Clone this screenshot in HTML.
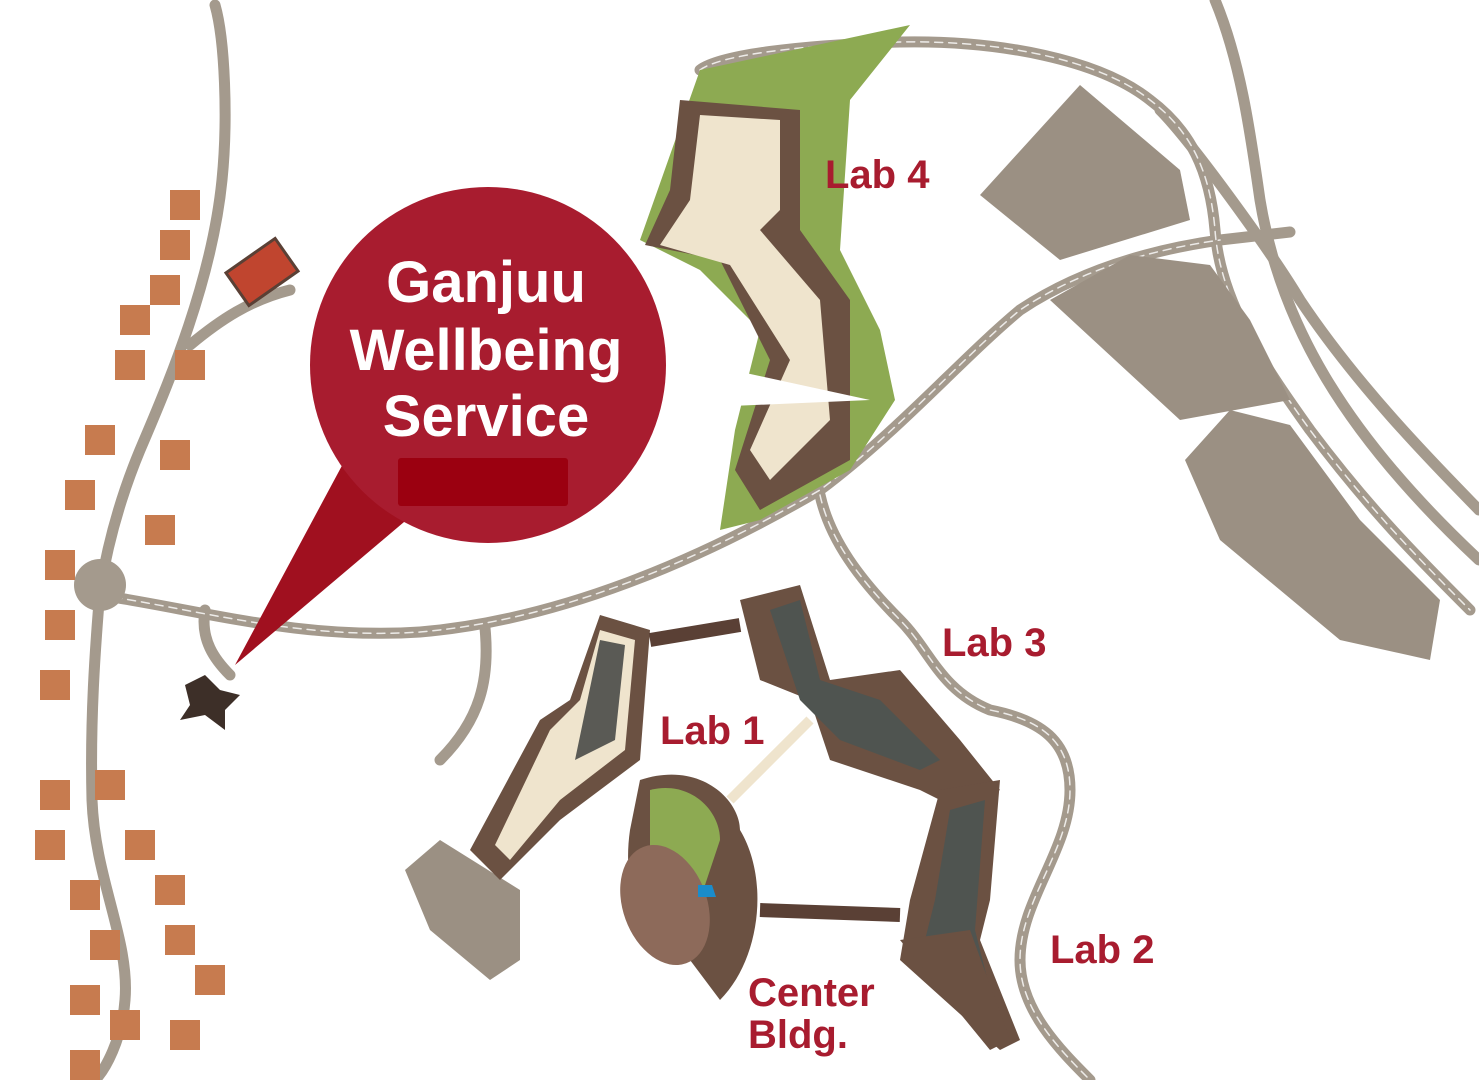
<!DOCTYPE html>
<html><head><meta charset="utf-8"><style>
html,body{margin:0;padding:0;background:#fff;width:1479px;height:1080px;overflow:hidden}
svg{display:block}
text{font-family:"Liberation Sans","DejaVu Sans",sans-serif;font-weight:bold}
</style></head><body>
<svg width="1479" height="1080" viewBox="0 0 1479 1080">
<g fill="none" stroke-linecap="round" stroke-linejoin="round">
<g stroke="#a49a8d" stroke-width="11">
<path d="M215 5 C225 40 228 120 222 180 C212 280 170 380 140 450 C115 510 105 560 100 590 C95 650 90 720 92 800 C95 880 130 940 125 1000 C122 1040 105 1070 95 1080"/>
<path d="M100 595 C200 610 300 640 420 632 C560 620 700 560 820 490 C900 430 960 360 1020 310 C1080 270 1150 250 1220 240 L1290 232"/>
<path d="M700 70 C720 55 800 45 900 42 C1000 40 1100 60 1150 100 C1190 130 1210 170 1215 230 C1220 300 1260 360 1310 430 C1370 510 1420 560 1470 610"/>
<path d="M1215 0 C1240 60 1250 130 1260 200 C1280 320 1340 430 1479 560"/>
<path d="M1160 110 C1190 140 1270 250 1300 300 C1360 390 1440 470 1479 510"/>
<path d="M820 495 C830 540 860 580 900 620 C930 650 940 690 990 710 C1040 720 1070 740 1070 790 C1070 850 1020 900 1020 960 C1020 1010 1060 1050 1090 1080"/>
<path d="M485 628 C490 680 480 720 440 760"/>
<path d="M190 345 C220 320 250 300 290 290"/>
<path d="M205 610 C200 640 215 660 230 675"/>
</g>
<g stroke="#fff" stroke-width="1.5" stroke-dasharray="8 6" opacity=".8">
<path d="M100 595 C200 610 300 640 420 632 C560 620 700 560 820 490 C900 430 960 360 1020 310 C1080 270 1150 250 1220 240"/>
<path d="M700 70 C720 55 800 45 900 42 C1000 40 1100 60 1150 100 C1190 130 1210 170 1215 230 C1220 300 1260 360 1310 430 C1370 510 1420 560 1470 610"/>
<path d="M820 495 C830 540 860 580 900 620 C930 650 940 690 990 710 C1040 720 1070 740 1070 790 C1070 850 1020 900 1020 960 C1020 1010 1060 1050 1090 1080"/>
</g>
</g>
<circle cx="100" cy="585" r="26" fill="#a49a8d"/>
<g fill="#9b9083">
<polygon points="980,195 1080,85 1180,170 1190,220 1060,260"/>
<polygon points="1050,300 1130,255 1210,265 1250,320 1290,400 1180,420"/>
<polygon points="1185,460 1230,410 1290,425 1360,520 1440,600 1430,660 1340,640 1220,540"/>
<polygon points="405,870 440,840 520,890 520,960 490,980 430,930"/>
</g>
<polygon points="700,70 910,25 850,100 840,250 880,330 895,400 850,470 760,520 720,530 735,430 760,330 700,270 640,240" fill="#8daa52"/>
<polygon points="680,100 800,110 800,230 850,300 850,460 760,510 735,470 770,360 720,260 645,245 670,190" fill="#6b5142"/>
<polygon points="700,115 780,120 780,210 760,230 820,300 830,420 770,480 750,450 790,360 730,265 660,245 690,200" fill="#efe4cd"/>
<polygon points="600,615 650,630 640,760 560,820 500,880 470,850 540,720 570,700" fill="#6b5142"/>
<polygon points="600,630 635,640 625,750 560,800 510,860 495,845 550,730 580,700" fill="#efe4cd"/>
<polygon points="600,640 625,645 615,740 575,760" fill="#5a5a55"/>
<polygon points="740,600 800,585 830,680 900,670 960,740 1000,790 960,810 920,790 830,760 810,700 760,680" fill="#6b5142"/>
<polygon points="770,610 800,600 820,680 880,700 940,760 920,770 840,740 800,700" fill="#4f5450"/>
<polygon points="940,790 1000,780 990,900 980,940 1020,1040 1000,1050 900,960 910,900" fill="#6b5142"/>
<polygon points="950,810 985,800 975,930 1000,1030 920,960 935,900" fill="#4f5450"/>
<polygon points="900,940 970,930 1010,1040 990,1050" fill="#6b5142"/>
<g stroke="#5a4035" stroke-width="14"><path d="M650 640 L740 625"/><path d="M760 910 L900 915"/></g>
<path d="M730 800 L810 720" stroke="#efe4cd" stroke-width="10"/>
<path d="M640 780 C700 760 740 800 740 830 C770 880 760 960 720 1000 L690 960 C650 940 620 900 630 830 Z" fill="#6b5142"/>
<path d="M650 790 C690 780 720 810 720 840 L700 900 L650 860 Z" fill="#8daa52"/>
<ellipse cx="665" cy="905" rx="42" ry="62" transform="rotate(-20 665 905)" fill="#8d6a5a"/>
<path d="M698 885 l14 0 l4 12 l-18 0z" fill="#1a8ccb"/>
<g fill="#c77b4f">
<rect x="170" y="190" width="30" height="30"/><rect x="160" y="230" width="30" height="30"/><rect x="150" y="275" width="30" height="30"/><rect x="120" y="305" width="30" height="30"/><rect x="115" y="350" width="30" height="30"/><rect x="175" y="350" width="30" height="30"/><rect x="85" y="425" width="30" height="30"/><rect x="160" y="440" width="30" height="30"/><rect x="65" y="480" width="30" height="30"/><rect x="145" y="515" width="30" height="30"/><rect x="45" y="550" width="30" height="30"/><rect x="45" y="610" width="30" height="30"/><rect x="40" y="670" width="30" height="30"/><rect x="40" y="780" width="30" height="30"/><rect x="95" y="770" width="30" height="30"/><rect x="35" y="830" width="30" height="30"/><rect x="125" y="830" width="30" height="30"/><rect x="70" y="880" width="30" height="30"/><rect x="155" y="875" width="30" height="30"/><rect x="90" y="930" width="30" height="30"/><rect x="165" y="925" width="30" height="30"/><rect x="70" y="985" width="30" height="30"/><rect x="195" y="965" width="30" height="30"/><rect x="110" y="1010" width="30" height="30"/><rect x="170" y="1020" width="30" height="30"/><rect x="70" y="1050" width="30" height="30"/>
</g>
<rect x="232" y="252" width="60" height="40" transform="rotate(-35 262 272)" fill="#c0452f" stroke="#5a4035" stroke-width="3"/>
<path d="M185 685 l20 -10 l15 15 l20 5 l-15 15 l0 20 l-20 -15 l-25 5 l10 -15z" fill="#3d2f28"/>
<polygon points="640,350 640,410 870,400" fill="#fff"/>
<polygon points="345,460 430,500 235,665" fill="#a0101f"/>
<circle cx="488" cy="365" r="178" fill="#a81c2f"/>
<rect x="398" y="458" width="170" height="48" rx="3" fill="#9b0010"/>
<g fill="#fff" font-size="58" text-anchor="middle">
<text x="486" y="302">Ganjuu</text>
<text x="486" y="370">Wellbeing</text>
<text x="486" y="436">Service</text>
</g>
<g fill="#a81c2f" font-size="40">
<text x="825" y="188">Lab 4</text>
<text x="942" y="656">Lab 3</text>
<text x="660" y="744">Lab 1</text>
<text x="1050" y="963">Lab 2</text>
<text x="748" y="1006">Center</text>
<text x="748" y="1048">Bldg.</text>
</g>
</svg>
</body></html>
